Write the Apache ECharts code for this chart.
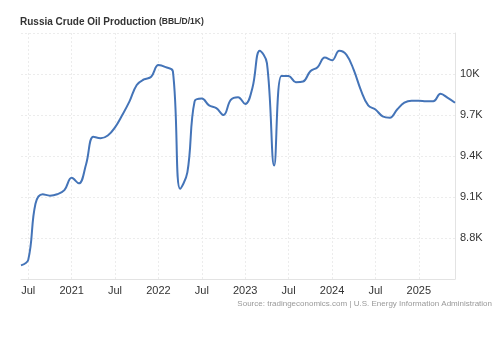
<!DOCTYPE html>
<html>
<head>
<meta charset="utf-8">
<script src="https://cdn.jsdelivr.net/npm/echarts@6/dist/echarts.min.js"></script>
<style>
  html, body { margin: 0; padding: 0; background: #fff; }
  #chart { width: 501px; height: 342px; }
</style>
</head>
<body>
<div id="chart"></div>
<script>
// Monthly crude oil output, thousand barrels per day (in K), Jun 2020 - Jun 2025
const months = [];
const startYear = 2020, startMonth = 6;
for (let i = 0; i < 61; i++) {
  const m0 = startMonth - 1 + i;
  const y = startYear + Math.floor(m0 / 12);
  const m = (m0 % 12) + 1;
  months.push(y + '-' + String(m).padStart(2, '0'));
}

const production = [
  8.60, 8.64, 9.05, 9.12, 9.11, 9.12, 9.15, 9.24, 9.20, 9.34,
  9.54, 9.53, 9.55, 9.61, 9.70, 9.80, 9.92, 9.96, 9.98, 10.065,
  10.05, 10.02, 9.16, 9.28, 9.80, 9.82, 9.77, 9.75, 9.70, 9.81,
  9.83, 9.78, 9.90, 10.17, 10.08, 9.33, 9.985, 9.985, 9.94, 9.945,
  10.02, 10.05, 10.12, 10.10, 10.17, 10.14, 10.03, 9.88, 9.77, 9.74,
  9.69, 9.68, 9.74, 9.79, 9.805, 9.805, 9.80, 9.80, 9.855, 9.825,
  9.79
];

const yTicks = { min: 8.5, max: 10.3, step: 0.3 };

const FONT = 'Liberation Sans, Arial, sans-serif';

const monthLabel = (v) => {
  const [y, m] = v.split('-');
  if (m === '01') return y;
  if (m === '07') return 'Jul';
  return '';
};
const isMarked = (idx) => {
  const m = months[idx].split('-')[1];
  return m === '01' || m === '07';
};

const chart = echarts.init(document.getElementById('chart'), null, { renderer: 'canvas' });
chart.setOption({
  animation: false,
  backgroundColor: '#fff',
  title: [{
    text: 'Russia Crude Oil Production {u|(BBL/D/1K)}',
    left: 20, top: 17, padding: 0,
    textStyle: {
      fontFamily: FONT,
      fontSize: 10, fontWeight: 'bold', color: '#333',
      rich: { u: { fontSize: 8.5, fontWeight: 'bold', color: '#333', fontFamily: FONT } }
    }
  }, {
    text: 'Source: tradingeconomics.com | U.S. Energy Information Administration',
    right: 9, top: 300, padding: 0,
    textStyle: { fontFamily: FONT, fontSize: 8, fontWeight: 'normal', color: '#999' }
  }],
  grid: { left: 21, right: 46, top: 33, bottom: 63, containLabel: false },
  xAxis: {
    type: 'category',
    data: months,
    boundaryGap: false,
    axisLine: { show: true, lineStyle: { color: '#e3e3e3', width: 1 } },
    axisTick: { show: false },
    axisLabel: {
      interval: (idx) => isMarked(idx),
      formatter: monthLabel,
      color: '#333', fontSize: 11, margin: 6,
      fontFamily: FONT
    },
    splitLine: {
      show: true,
      interval: (idx) => isMarked(idx),
      lineStyle: { color: '#ececec', type: [2, 2], width: 1 }
    }
  },
  yAxis: {
    type: 'value',
    position: 'right',
    min: yTicks.min, max: yTicks.max, interval: yTicks.step,
    axisLine: { show: true, lineStyle: { color: '#e3e3e3', width: 1 } },
    axisTick: { show: false },
    axisLabel: {
      showMinLabel: false, showMaxLabel: false,
      formatter: (v) => (Math.round(v * 10) / 10) + 'K',
      color: '#333', fontSize: 11, margin: 5,
      fontFamily: FONT
    },
    splitLine: { show: true, lineStyle: { color: '#ececec', type: [2, 2], width: 1 } }
  },
  series: [{
    type: 'line',
    data: production,
    smooth: 0.4,
    symbol: 'none',
    lineStyle: { color: '#4474b8', width: 2 }
  }]
});
</script>
</body>
</html>
